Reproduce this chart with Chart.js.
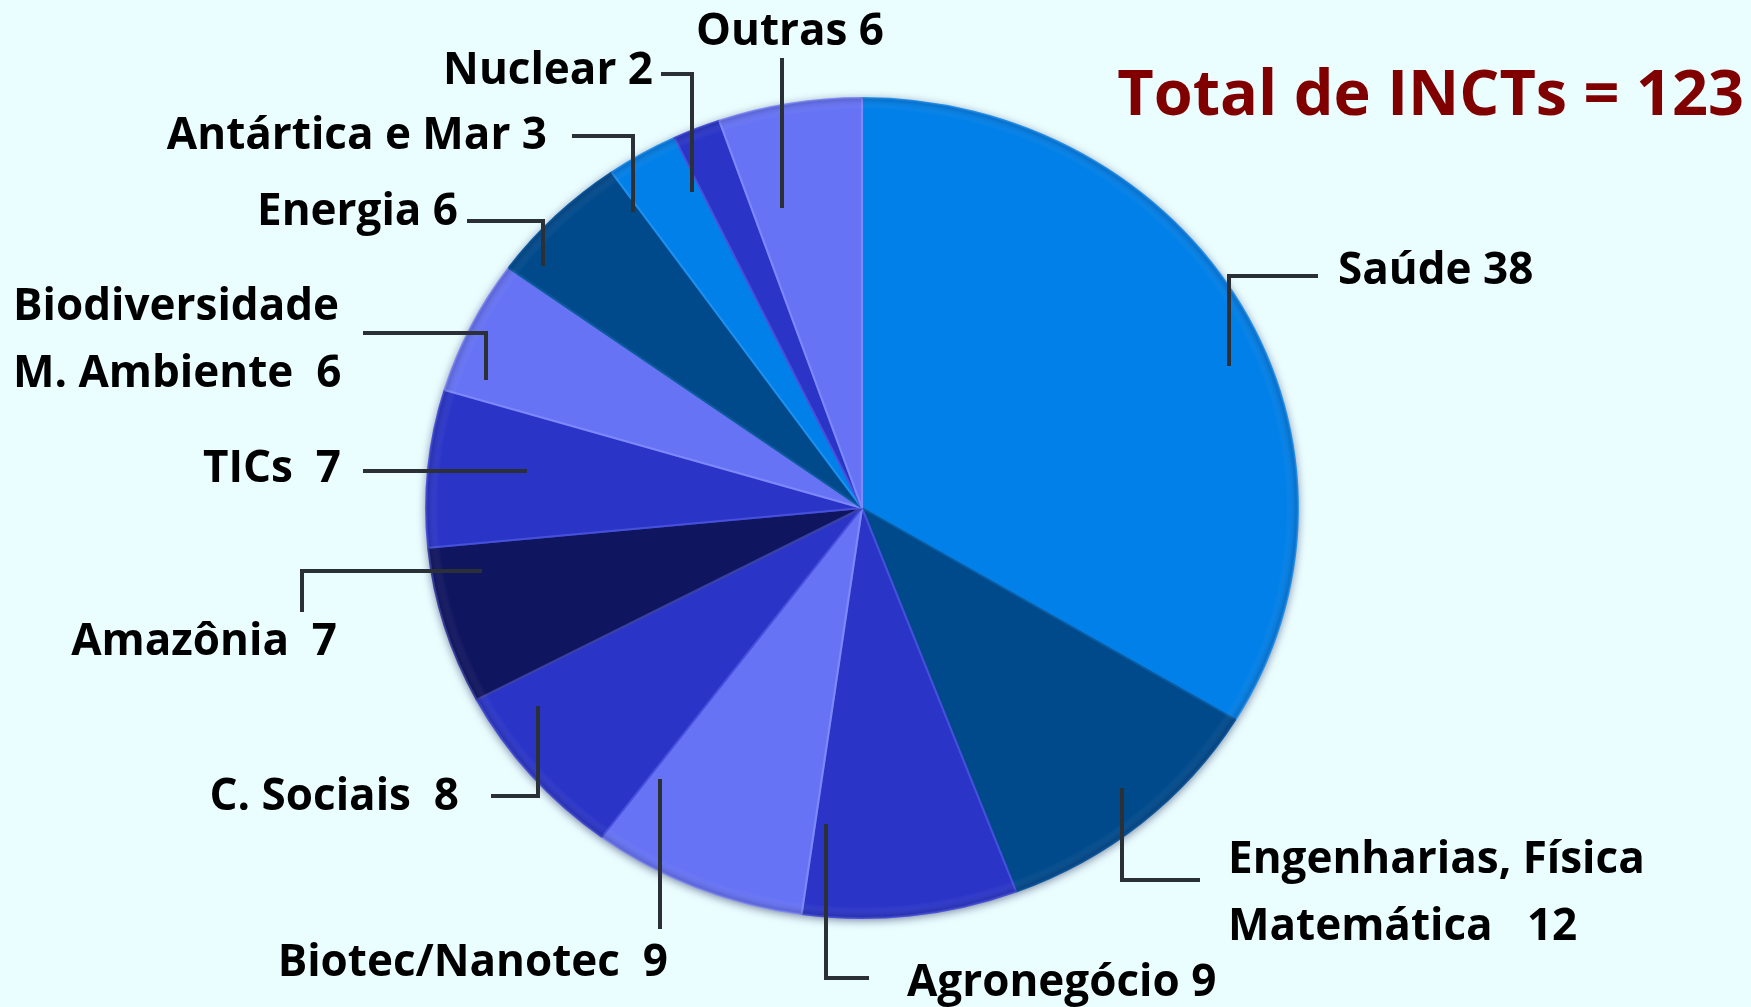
<!DOCTYPE html>
<html>
<head>
<meta charset="utf-8">
<script src="https://cdn.jsdelivr.net/npm/chart.js@4/dist/chart.umd.min.js"></script>
<style>
    html, body { margin: 0; padding: 0; background: #eafdff; }
    #wrap { width: 1751px; height: 1007px; position: relative; }
</style>
</head>
<body>
<div id="wrap"><canvas id="incts" width="1751" height="1007"></canvas></div>
<script>
/* dados do grafico */
const categorias = ["Saúde", "Engenharias, Física\nMatemática", "Agronegócio", "Biotec/Nanotec", "C. Sociais",
    "Amazônia", "TICs", "Biodiversidade\nM. Ambiente", "Energia", "Antártica e Mar", "Nuclear", "Outras"];
const valores = [38, 12, 9, 9, 8, 7, 7, 6, 6, 3, 2, 6];
const tituloTexto = "Total de INCTs = 123";

const cores = ["#0080e8", "#004a8c", "#2a35c8", "#6673f5", "#2a35c8", "#101560",
    "#2a35c8", "#6673f5", "#004a8c", "#0080e8", "#2a35c8", "#6673f5"];
const bordas = ["#1d90f0", "#0a5aa0", "#4650dc", "#7d88fa", "#4650dc", "#3a40a0",
    "#4650dc", "#7d88fa", "#0a5aa0", "#1d90f0", "#4650dc", "#7d88fa"];

// posicao dos rotulos: x, y (centro da 1a linha), alinhamento, espaco antes do valor, linha guia
const rotulos = [
    { x: 1338, y: 271, align: "left", gap: " ", line: [[1318, 276], [1229, 276], [1229, 366]] },
    { x: 1228, y: 860, align: "left", gap: "   ", line: [[1200, 880], [1122, 880], [1122, 788]] },
    { x: 907, y: 983, align: "left", gap: " ", line: [[869, 978], [826, 978], [826, 824]] },
    { x: 668, y: 963, align: "right", gap: "  ", line: [[660, 929], [660, 779]] },
    { x: 459, y: 797, align: "right", gap: "  ", line: [[491, 796], [538, 796], [538, 706]] },
    { x: 337, y: 642, align: "right", gap: "  ", line: [[302, 612], [302, 571], [482, 571]] },
    { x: 341, y: 469, align: "right", gap: "  ", line: [[363, 471], [527, 471]] },
    { x: 13, y: 307, align: "left", gap: "  ", line: [[363, 333], [486, 333], [486, 380]] },
    { x: 458, y: 212, align: "right", gap: " ", line: [[467, 221], [543, 221], [543, 266]] },
    { x: 547, y: 136, align: "right", gap: " ", line: [[572, 136], [633, 136], [633, 212]] },
    { x: 653, y: 71, align: "right", gap: " ", line: [[661, 74], [692, 74], [692, 192]] },
    { x: 790, y: 32, align: "center", gap: " ", line: [[782, 58], [782, 208]] },
];

const esticar = 1.063; // pizza levemente eliptica

/* fundo */
const fundoPlugin = {
    id: "fundo",
    beforeDraw(chart) {
        const ctx = chart.ctx;
        ctx.save();
        ctx.fillStyle = "#eafdff";
        ctx.fillRect(0, 0, chart.width, chart.height);
        ctx.restore();
    },
};

/* deixa a pizza eliptica e com sombra */
const elipsePlugin = {
    id: "elipse",
    beforeDatasetsDraw(chart) {
        const arc = chart.getDatasetMeta(0).data[0];
        const cx = arc.x, cy = arc.y, r = arc.outerRadius;
        const ctx = chart.ctx;
        ctx.save();
        ctx.beginPath();
        ctx.ellipse(cx, cy, r * esticar, r, 0, 0, Math.PI * 2);
        ctx.shadowColor = "rgba(0, 10, 60, 0.55)";
        ctx.shadowBlur = 10;
        ctx.shadowOffsetY = 2;
        ctx.fillStyle = "#1a3090";
        ctx.fill();
        ctx.restore();
        ctx.save();
        ctx.translate(cx, cy);
        ctx.scale(esticar, 1);
        ctx.translate(-cx, -cy);
    },
    afterDatasetsDraw(chart) {
        const arc = chart.getDatasetMeta(0).data[0];
        const cx = arc.x, cy = arc.y, r = arc.outerRadius;
        const ctx = chart.ctx;
        // brilho suave
        const g = ctx.createRadialGradient(cx, cy, r * 0.6, cx, cy, r);
        g.addColorStop(0, "rgba(255,255,255,0)");
        g.addColorStop(0.93, "rgba(255,255,255,0)");
        g.addColorStop(1, "rgba(0,0,40,0.18)");
        ctx.beginPath();
        ctx.arc(cx, cy, r, 0, Math.PI * 2);
        ctx.fillStyle = g;
        ctx.fill();
        ctx.restore();
    },
};

/* rotulos com linhas guia */
const rotulosPlugin = {
    id: "rotulos",
    afterDraw(chart) {
        const ctx = chart.ctx;
        ctx.save();
        ctx.strokeStyle = "#2b2f36";
        ctx.lineWidth = 4;
        ctx.lineJoin = "miter";
        rotulos.forEach((r) => {
            ctx.beginPath();
            r.line.forEach((p, i) => (i === 0 ? ctx.moveTo(p[0], p[1]) : ctx.lineTo(p[0], p[1])));
            ctx.stroke();
        });

        ctx.fillStyle = "#000000";
        ctx.font = "bold 44px 'Open Sans'";
        ctx.textBaseline = "middle";
        categorias.forEach((cat, i) => {
            const r = rotulos[i];
            const linhas = cat.split("\n");
            linhas[linhas.length - 1] += r.gap + valores[i];
            ctx.textAlign = r.align;
            linhas.forEach((txt, k) => ctx.fillText(txt, r.x, r.y + k * 67));
        });

        ctx.fillStyle = "#800000";
        ctx.font = "bold 63px 'Open Sans'";
        ctx.textAlign = "right";
        ctx.fillText(tituloTexto, 1744, 97);
        ctx.restore();
    },
};

document.addEventListener("DOMContentLoaded", function () {
    new Chart(document.getElementById("incts"), {
        type: "pie",
        data: {
            labels: categorias,
            datasets: [
                {
                    data: valores,
                    backgroundColor: cores,
                    borderColor: bordas,
                    borderWidth: 2,
                    radius: 410,
                },
            ],
        },
        options: {
            responsive: false,
            animation: false,
            events: [],
            layout: { padding: { left: 452, right: 479, top: 98, bottom: 89 } },
            plugins: {
                legend: { display: false },
                tooltip: { enabled: false },
            },
        },
        plugins: [fundoPlugin, elipsePlugin, rotulosPlugin],
    });
});
</script>
</body>
</html>
